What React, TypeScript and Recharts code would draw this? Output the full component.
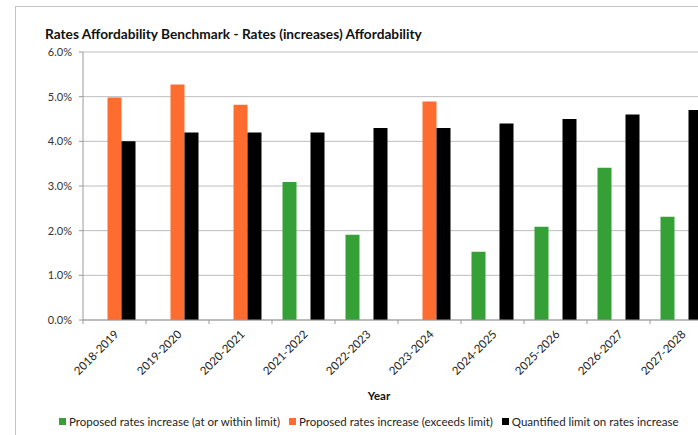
import React from 'react';
import { BarChart, Bar, XAxis, YAxis, CartesianGrid } from 'recharts';

// Financial years shown on the category axis
const years = [
  '2018-2019', '2019-2020', '2020-2021', '2021-2022', '2022-2023',
  '2023-2024', '2024-2025', '2025-2026', '2026-2027', '2027-2028',
];

// Proposed rates increase (%) that sits at or within the limit
const withinLimit: (number | null)[] = [null, null, null, 3.09, 1.91, null, 1.53, 2.09, 3.41, 2.31];
// Proposed rates increase (%) that exceeds the limit
const exceedsLimit: (number | null)[] = [4.98, 5.27, 4.82, null, null, 4.89, null, null, null, null];
// Quantified limit on rates increase (%)
const limit: number[] = [4.0, 4.2, 4.2, 4.2, 4.3, 4.3, 4.4, 4.5, 4.6, 4.7];

const yTicks = [0, 1, 2, 3, 4, 5, 6];

const series = [
  { key: 'within', name: 'Proposed rates increase (at or within limit)', color: '#34A036' },
  { key: 'exceeds', name: 'Proposed rates increase (exceeds limit)', color: '#FF6C2F' },
  { key: 'limit', name: 'Quantified limit on rates increase', color: '#000000' },
];

const data = years.map((year, i) => ({
  year,
  within: withinLimit[i],
  exceeds: exceedsLimit[i],
  limit: limit[i],
}));

const FONT = 'Lato, "Open Sans", "DejaVu Sans", sans-serif';

// Category tick: a short mark at the left edge of the band plus a rotated year label
const YearTick = (props: any) => {
  const { x, y, payload } = props;
  const edge = x - (payload.offset || 0);
  const ax = x + 5;
  const ay = y + 11;
  return (
    <g>
      <line x1={edge} y1={y - 4} x2={edge} y2={y} stroke="#999" strokeWidth={1} />
      <text
        x={ax}
        y={ay}
        textAnchor="end"
        transform={`rotate(-45, ${ax}, ${ay})`}
        fontSize={11.5}
        fontFamily={FONT}
        fill="#222"
      >
        {payload.value}
      </text>
    </g>
  );
};

export default function App() {
  return (
    <div
      style={{
        position: 'absolute',
        left: 0,
        top: 0,
        width: 698,
        height: 435,
        overflow: 'hidden',
        background: '#fff',
        fontFamily: FONT,
      }}
    >
      <div
        style={{
          position: 'absolute',
          left: 15,
          top: 6,
          width: 800,
          height: 500,
          border: '1px solid #c4c4c4',
          boxSizing: 'border-box',
        }}
      />
      <div
        style={{
          position: 'absolute',
          left: 45,
          top: 25,
          fontSize: 13.7,
          fontWeight: 700,
          color: '#111',
          whiteSpace: 'nowrap',
        }}
      >
        Rates Affordability Benchmark - Rates (increases) Affordability
      </div>
      <div style={{ position: 'absolute', left: 0, top: 0 }}>
        <BarChart
          width={730}
          height={435}
          data={data}
          margin={{ top: 52, right: 17, left: 0, bottom: 0 }}
          barCategoryGap="16.67%"
          barGap={0}
        >
          <CartesianGrid vertical={false} stroke="#bdbdbd" strokeWidth={1} />
          <XAxis
            dataKey="year"
            interval={0}
            height={115}
            tickSize={4}
            tickMargin={0}
            tickLine={false}
            axisLine={{ stroke: '#999' }}
            tick={<YearTick />}
            label={{
              value: 'Year',
              position: 'insideBottom',
              offset: 35,
              dx: -19,
              fontSize: 11.5,
              fontWeight: 700,
              fontFamily: FONT,
              fill: '#111',
            }}
          />
          <YAxis
            width={83}
            domain={[0, 6]}
            ticks={yTicks}
            tickFormatter={(v: number) => `${v.toFixed(1)}%`}
            tickSize={4}
            tickMargin={7}
            axisLine={{ stroke: '#999' }}
            tickLine={{ stroke: '#999' }}
            tick={{ fontSize: 11, fontFamily: FONT, fill: '#333' }}
            allowDataOverflow
          />
          {series.map((s) => (
            <Bar
              key={s.key}
              dataKey={s.key}
              name={s.name}
              fill={s.color}
              isAnimationActive={false}
            />
          ))}
        </BarChart>
      </div>
      <div
        style={{
          position: 'absolute',
          left: 59,
          top: 415,
          display: 'flex',
          alignItems: 'center',
          fontSize: 11.5,
          color: '#222',
          whiteSpace: 'nowrap',
        }}
      >
        {series.map((s) => (
          <div key={s.key} style={{ display: 'flex', alignItems: 'center', marginRight: 9 }}>
            <span
              style={{
                display: 'inline-block',
                width: 7,
                height: 7,
                background: s.color,
                marginRight: 3,
              }}
            />
            <span>{s.name}</span>
          </div>
        ))}
      </div>
    </div>
  );
}
